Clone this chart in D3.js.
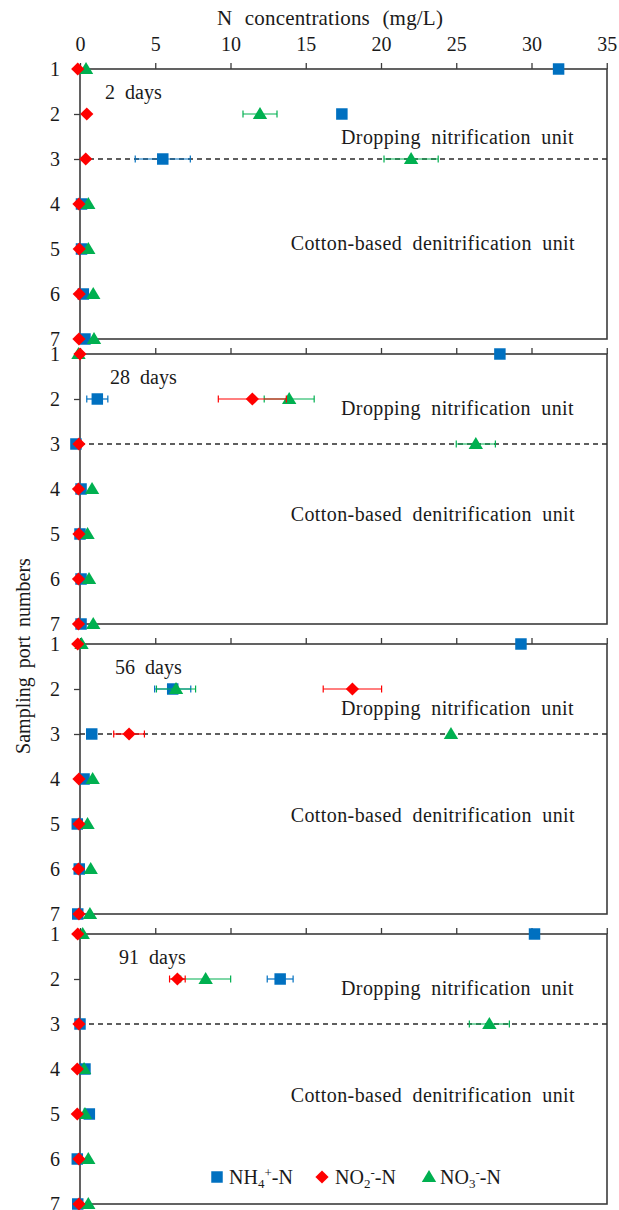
<!DOCTYPE html>
<html>
<head>
<meta charset="utf-8">
<script src="https://cdn.jsdelivr.net/npm/d3@7"></script>
<style>
  html, body { margin: 0; padding: 0; background: #fff; }
  svg { display: block; }
  svg text { font-family: 'Liberation Serif', serif; fill: #1a1a1a; }
</style>
</head>
<body>
<svg id="chart" width="619" height="1210" font-family="Liberation Serif"></svg>
<script>
// Sampling ports (rows) and concentration ticks
const portNumbers = [1, 2, 3, 4, 5, 6, 7];
const xTicks = [0, 5, 10, 15, 20, 25, 30, 35];
const dayLabels = ["2 days", "28 days", "56 days", "91 days"];

// N concentrations (mg/L) per panel, ports 1..7
const nh4 = [
  [31.8, 17.4, 5.5, 0.1, 0.1, 0.22, 0.33],
  [27.9, 1.15, -0.27, 0.07, 0.0, 0.07, 0.07],
  [29.3, 6.16, 0.78, 0.27, -0.18, -0.05, -0.15],
  [30.2, 13.3, 0.0, 0.33, 0.62, -0.18, -0.15]
];
const nh4Err = [
  [0, 0.15, 1.83, 0, 0, 0, 0],
  [0, 0.7, 0, 0, 0, 0, 0],
  [0, 1.2, 0, 0, 0, 0, 0],
  [0, 0.86, 0, 0, 0, 0, 0]
];
const no2 = [
  [-0.15, 0.45, 0.38, -0.07, -0.05, -0.05, -0.07],
  [0.0, 11.45, -0.07, -0.1, -0.07, -0.1, -0.1],
  [-0.15, 18.1, 3.26, -0.07, -0.07, -0.1, -0.07],
  [-0.15, 6.47, -0.07, -0.18, -0.18, -0.07, -0.07]
];
const no2Err = [
  [0, 0, 0, 0, 0, 0, 0],
  [0, 2.26, 0, 0, 0, 0, 0],
  [0, 1.94, 1.02, 0, 0, 0, 0],
  [0, 0.52, 0, 0, 0, 0, 0]
];
const no3 = [
  [0.4, 11.96, 22.0, 0.55, 0.55, 0.88, 0.93],
  [-0.1, 13.9, 26.3, 0.8, 0.5, 0.6, 0.88],
  [0.1, 6.38, 24.65, 0.84, 0.5, 0.71, 0.66],
  [0.18, 8.35, 27.2, 0.27, 0.33, 0.55, 0.55]
];
const no3Err = [
  [0, 1.13, 1.8, 0, 0, 0, 0],
  [0, 1.66, 1.3, 0, 0, 0, 0],
  [0, 1.3, 0, 0, 0, 0, 0],
  [0, 1.66, 1.33, 0, 0, 0, 0]
];

// Panel layout
const margin = { left: 80, right: 607 };
const panelTops = [69, 354, 644, 934];
const panelHeight = 270;
const dayLabelX = [105, 110, 115, 119];
const unitLabelRows = { top: [2.5, 2.19, 2.43, 2.21], bottom: [4.87, 4.56, 4.8, 4.58] };
const boundaryPort = 3;

const colors = { nh4: "#0070C0", no2: "#FF0000", no3: "#00B050" };
const axisColor = "#3c3c3c";
const FONT = "Liberation Serif, serif";

const svg = d3.select("#chart");
const x = d3.scaleLinear().domain([0, 35]).range([margin.left, 80 + 35 * 15.05]);

// square, rotated-square diamond, triangle
const diamondPath = r => `M0,${-r}L${r},0L0,${r}L${-r},0Z`;
const sym = {
  nh4: d3.symbol().type(d3.symbolSquare).size(132)(),
  no2: diamondPath(6.6),
  no3: "M0,-7L7.2,5L-7.2,5Z"
};

// Axis titles
svg.append("text")
  .attr("x", 330).attr("y", 18)
  .attr("text-anchor", "middle").attr("dominant-baseline", "central")
  .attr("font-size", 21).attr("word-spacing", 7).attr("letter-spacing", 0.2)
  .text("N concentrations (mg/L)");

svg.append("text")
  .attr("transform", "translate(23,656) rotate(-90)")
  .attr("text-anchor", "middle").attr("dominant-baseline", "central")
  .attr("font-size", 20).attr("word-spacing", 4)
  .text("Sampling port numbers");

panelTops.forEach((top, p) => {
  const y = d3.scaleLinear().domain([1, 7]).range([top, top + panelHeight]);
  const g = svg.append("g");

  // top axis (labels only on the first panel)
  const xAxis = d3.axisTop(x).tickValues(xTicks).tickSize(6).tickPadding(18)
    .tickFormat(p === 0 ? d3.format("d") : () => "");
  const gx = g.append("g").attr("transform", `translate(0,${top})`).call(xAxis)
    .attr("font-family", FONT);
  gx.select(".domain").remove();
  gx.selectAll("line").attr("stroke", axisColor).attr("stroke-width", 1.3);
  gx.selectAll("text").attr("font-size", 20).attr("fill", "#1a1a1a").attr("dy", "0.3em");

  // left axis with port numbers
  const yAxis = d3.axisLeft(y).tickValues(portNumbers).tickSize(6).tickPadding(14)
    .tickFormat(d3.format("d"));
  const gy = g.append("g").attr("transform", `translate(${margin.left},0)`).call(yAxis)
    .attr("font-family", FONT);
  gy.select(".domain").remove();
  gy.selectAll("line").attr("stroke", axisColor).attr("stroke-width", 1.3);
  gy.selectAll("text").attr("font-size", 20).attr("fill", "#1a1a1a");

  // frame
  g.append("rect")
    .attr("x", margin.left).attr("y", top)
    .attr("width", margin.right - margin.left).attr("height", panelHeight)
    .attr("fill", "none").attr("stroke", axisColor).attr("stroke-width", 1.6);

  // boundary between the two units
  g.append("line")
    .attr("x1", margin.left).attr("x2", margin.right)
    .attr("y1", y(boundaryPort)).attr("y2", y(boundaryPort))
    .attr("stroke", "#2a2a2a").attr("stroke-width", 1.3)
    .attr("stroke-dasharray", "5,4");

  // annotations
  g.append("text")
    .attr("x", dayLabelX[p]).attr("y", y(1.5))
    .attr("dominant-baseline", "central").attr("font-size", 20).attr("word-spacing", 5)
    .text(dayLabels[p]);
  g.append("text")
    .attr("x", 574).attr("y", y(unitLabelRows.top[p]))
    .attr("text-anchor", "end").attr("dominant-baseline", "central")
    .attr("font-size", 20).attr("word-spacing", 5).attr("letter-spacing", 0.4)
    .text("Dropping nitrification unit");
  g.append("text")
    .attr("x", 575).attr("y", y(unitLabelRows.bottom[p]))
    .attr("text-anchor", "end").attr("dominant-baseline", "central")
    .attr("font-size", 20).attr("word-spacing", 5).attr("letter-spacing", 0.4)
    .text("Cotton-based denitrification unit");

  // series
  const series = [
    { key: "nh4", vals: nh4[p], errs: nh4Err[p] },
    { key: "no3", vals: no3[p], errs: no3Err[p] },
    { key: "no2", vals: no2[p], errs: no2Err[p] }
  ];
  series.forEach(s => {
    const data = portNumbers.map((port, i) => ({ port, v: s.vals[i], e: s.errs[i] }));
    const eg = g.append("g").attr("stroke", colors[s.key]).attr("stroke-width", 1.2);
    data.filter(d => d.e > 0).forEach(d => {
      const yy = y(d.port);
      eg.append("line").attr("x1", x(d.v - d.e)).attr("x2", x(d.v + d.e)).attr("y1", yy).attr("y2", yy);
      eg.append("line").attr("x1", x(d.v - d.e)).attr("x2", x(d.v - d.e)).attr("y1", yy - 3.5).attr("y2", yy + 3.5);
      eg.append("line").attr("x1", x(d.v + d.e)).attr("x2", x(d.v + d.e)).attr("y1", yy - 3.5).attr("y2", yy + 3.5);
    });
    g.append("g").selectAll("path").data(data).join("path")
      .attr("d", sym[s.key])
      .attr("transform", d => `translate(${x(d.v)},${y(d.port)})`)
      .attr("fill", colors[s.key]);
  });
});

// legend inside the last panel
const legendY = panelTops[3] + 243;
const legend = svg.append("g");
const items = [
  { key: "nh4", cx: 217, tx: 229, main: "NH", sub: "4", sup: "+" },
  { key: "no2", cx: 322, tx: 335, main: "NO", sub: "2", sup: "-" },
  { key: "no3", cx: 429, tx: 440, main: "NO", sub: "3", sup: "-" }
];
items.forEach(it => {
  legend.append("path")
    .attr("d", sym[it.key])
    .attr("transform", `translate(${it.cx},${legendY})`)
    .attr("fill", colors[it.key]);
  const t = legend.append("text")
    .attr("x", it.tx).attr("y", legendY + 6.5).attr("font-size", 20);
  t.append("tspan").text(it.main);
  t.append("tspan").attr("font-size", 13).attr("dy", 4).text(it.sub);
  t.append("tspan").attr("font-size", 13).attr("dy", -11).text(it.sup);
  t.append("tspan").attr("dy", 7).text("-N");
});
</script>
</body>
</html>
